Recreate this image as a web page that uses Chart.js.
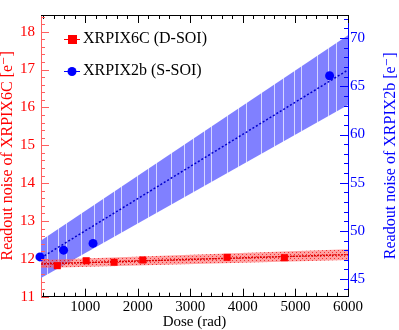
<!DOCTYPE html>
<html>
<head>
<meta charset="utf-8">
<script src="https://cdn.jsdelivr.net/npm/chart.js@4.4.1/dist/chart.umd.min.js"></script>
<style>
  html, body { margin: 0; padding: 0; background: #fff; }
  canvas { display: block; }
</style>
</head>
<body>
<canvas id="noiseChart" width="399" height="330" style="width:399px;height:330px"></canvas>
<script>
// ── Data ──
const redDose  = [470, 1020, 1550, 2095, 3700, 4790];
const redNoise = [11.82, 11.95, 11.91, 11.97, 12.04, 12.03];   // XRPIX6C, left axis
const blueDose  = [140, 590, 1150, 5650];
const blueNoise = [47.3, 48.0, 48.7, 66.1];                     // XRPIX2b, right axis

const fitDose   = [160, 6000];
const redFit    = [11.865, 12.11];
const redUpper  = [11.97, 12.25];
const redLower  = [11.76, 11.97];
const blueFit   = [47.2, 66.7];
const blueUpper = [49.0, 70.3];
const blueLower = [45.1, 63.05];

const xTicks  = [1000, 2000, 3000, 4000, 5000, 6000];
const yTicks  = [11, 12, 13, 14, 15, 16, 17, 18];
const y2Ticks = [45, 50, 55, 60, 65, 70];

const SERIF = '"Liberation Serif", "DejaVu Serif", serif';
const RED = '#ff0000';
const BLUE = '#0000ff';
const Y2_TITLE = 'Readout noise of XRPIX2b [e\u207B]';

const pts = (xs, ys) => xs.map((x, i) => ({ x: x, y: ys[i] }));

// ── Band fills ──
function redPattern() {
    const c = document.createElement('canvas');
    c.width = 4; c.height = 4;
    const g = c.getContext('2d');
    g.fillStyle = 'rgba(255,100,100,0.6)';
    g.fillRect(0, 0, 4, 4);
    g.fillStyle = 'rgba(235,0,0,0.7)';
    g.fillRect(0, 0, 1, 1);
    g.fillRect(2, 2, 1, 1);
    return g.createPattern(c, 'repeat');
}

// light fill with the faint vertical streaks seen in the original render
function bluePattern() {
    const c = document.createElement('canvas');
    c.width = 90; c.height = 4;
    const g = c.getContext('2d');
    g.fillStyle = '#8080ff';
    g.fillRect(0, 0, 90, 4);
    g.fillStyle = 'rgba(235,235,255,0.8)';
    [4, 13, 24, 31, 47, 58, 66, 81].forEach(sx => g.fillRect(sx, 0, 1, 4));
    return g.createPattern(c, 'repeat');
}

// ── Frame + inward ticks ──
const frameTicks = {
    id: 'frameTicks',
    afterDatasetsDraw(chart) {
        const { ctx, chartArea: a, scales } = chart;
        const { x, y, y2 } = scales;
        ctx.save();
        ctx.lineWidth = 1;

        // top frame line
        ctx.strokeStyle = '#000';
        ctx.beginPath();
        ctx.moveTo(a.left, a.top + 0.5);
        ctx.lineTo(a.right, a.top + 0.5);
        ctx.stroke();

        const minor = (scale, step) => {
            const out = [];
            for (let v = Math.ceil(scale.min / step) * step; v <= scale.max + 1e-9; v += step) out.push(v);
            return out;
        };

        // x ticks (bottom and top)
        ctx.strokeStyle = '#000';
        ctx.beginPath();
        minor(x, 200).forEach(v => {
            const px = Math.round(x.getPixelForValue(v)) + 0.5;
            const big = Math.abs(v / 1000 - Math.round(v / 1000)) < 1e-6;
            const len = big ? 8 : 4;
            ctx.moveTo(px, a.bottom); ctx.lineTo(px, a.bottom - len);
            ctx.moveTo(px, a.top);    ctx.lineTo(px, a.top + len);
        });
        ctx.stroke();

        // left ticks
        ctx.strokeStyle = '#ff6060';
        ctx.beginPath();
        minor(y, 0.2).forEach(v => {
            const py = Math.round(y.getPixelForValue(v)) + 0.5;
            const big = Math.abs(v - Math.round(v)) < 1e-6;
            ctx.moveTo(a.left, py); ctx.lineTo(a.left + (big ? 8 : 4), py);
        });
        ctx.stroke();

        // right ticks
        ctx.strokeStyle = BLUE;
        ctx.beginPath();
        minor(y2, 1).forEach(v => {
            const py = Math.round(y2.getPixelForValue(v)) + 0.5;
            const big = Math.abs(v / 5 - Math.round(v / 5)) < 1e-6;
            ctx.moveTo(a.right, py); ctx.lineTo(a.right - (big ? 8 : 4), py);
        });
        ctx.stroke();
        ctx.restore();
    }
};

// ── Legend inside the frame + right axis title (reads bottom to top) ──
const innerLegend = {
    id: 'innerLegend',
    afterDraw(chart) {
        const { ctx, chartArea: a } = chart;
        const rows = [
            { label: 'XRPIX6C (D-SOI)', color: RED,  shape: 'rect',   y: 39 },
            { label: 'XRPIX2b (S-SOI)', color: BLUE, shape: 'circle', y: 71 }
        ];
        ctx.save();
        rows.forEach(r => {
            ctx.strokeStyle = r.color;
            ctx.lineWidth = 1;
            ctx.beginPath();
            ctx.moveTo(64, r.y + 0.5); ctx.lineTo(80, r.y + 0.5);
            ctx.stroke();
            ctx.fillStyle = r.color;
            if (r.shape === 'rect') {
                ctx.fillRect(68, r.y - 4, 9, 9);
            } else {
                ctx.beginPath();
                ctx.arc(72, r.y + 0.5, 4.5, 0, Math.PI * 2);
                ctx.fill();
            }
            ctx.fillStyle = '#000';
            ctx.font = '16px ' + SERIF;
            ctx.textBaseline = 'middle';
            ctx.fillText(r.label, 83, r.y);
        });

        ctx.translate(391, (a.top + a.bottom) / 2);
        ctx.rotate(-Math.PI / 2);
        ctx.fillStyle = BLUE;
        ctx.font = '16px ' + SERIF;
        ctx.textAlign = 'center';
        ctx.textBaseline = 'middle';
        ctx.fillText(Y2_TITLE, 0, 0);
        ctx.restore();
    }
};

const ctx = document.getElementById('noiseChart').getContext('2d');
const redFill = redPattern();
const blueFill = bluePattern();

new Chart(ctx, {
    type: 'scatter',
    data: {
        datasets: [
            { label: 'XRPIX6C', data: pts(redDose, redNoise), yAxisID: 'y',
              pointStyle: 'rect', pointRadius: 5, backgroundColor: RED, borderColor: RED,
              borderWidth: 0, order: 1, clip: false },
            { label: 'XRPIX2b', data: pts(blueDose, blueNoise), yAxisID: 'y2',
              pointStyle: 'circle', pointRadius: 4.5, backgroundColor: BLUE, borderColor: BLUE,
              borderWidth: 0, order: 2, clip: false },
            { label: 'red fit', data: pts(fitDose, redFit), yAxisID: 'y', showLine: true,
              pointRadius: 0, borderColor: '#dd0000', borderWidth: 1.5, borderDash: [2, 1], order: 3 },
            { label: 'red upper', data: pts(fitDose, redUpper), yAxisID: 'y', showLine: true,
              pointRadius: 0, borderWidth: 0, borderColor: 'rgba(0,0,0,0)', backgroundColor: redFill,
              fill: '+1', order: 4 },
            { label: 'red lower', data: pts(fitDose, redLower), yAxisID: 'y', showLine: true,
              pointRadius: 0, borderWidth: 0, borderColor: 'rgba(0,0,0,0)', fill: false, order: 4 },
            { label: 'blue fit', data: pts(fitDose, blueFit), yAxisID: 'y2', showLine: true,
              pointRadius: 0, borderColor: '#0000cc', borderWidth: 1.5, borderDash: [2, 2], order: 5 },
            { label: 'blue upper', data: pts(fitDose, blueUpper), yAxisID: 'y2', showLine: true,
              pointRadius: 0, borderWidth: 0, borderColor: 'rgba(0,0,0,0)',
              backgroundColor: blueFill, fill: '+1', order: 6 },
            { label: 'blue lower', data: pts(fitDose, blueLower), yAxisID: 'y2', showLine: true,
              pointRadius: 0, borderWidth: 0, borderColor: 'rgba(0,0,0,0)', fill: false, order: 6 }
        ]
    },
    options: {
        responsive: false,
        animation: false,
        devicePixelRatio: 1,
        layout: { padding: { top: 2.5, left: 0, right: 0, bottom: 0 } },
        plugins: { legend: { display: false }, tooltip: { enabled: false } },
        scales: {
            x: {
                type: 'linear', min: 160, max: 6000,
                afterFit: s => { s.height = 33.3; },
                afterBuildTicks: s => { s.ticks = xTicks.map(v => ({ value: v })); },
                grid: { display: false, drawTicks: false, tickLength: 0 },
                border: { display: true, color: '#000', width: 1 },
                ticks: { color: '#000', padding: 1, font: { family: SERIF, size: 15 },
                         callback: v => String(v) },
                title: { display: true, text: 'Dose (rad)', color: '#000', padding: 0,
                         font: { family: SERIF, size: 15, lineHeight: 1 } }
            },
            y: {
                position: 'left', min: 11, max: 18.44,
                afterFit: s => { s.width = 41; },
                afterBuildTicks: s => { s.ticks = yTicks.map(v => ({ value: v })); },
                grid: { display: false, drawTicks: false, tickLength: 0 },
                border: { display: true, color: '#ff6060', width: 1 },
                ticks: { color: RED, padding: 6, font: { family: SERIF, size: 15 },
                         callback: v => String(v) },
                title: { display: true, text: 'Readout noise of XRPIX6C [e\u207B]', color: RED, padding: 0,
                         font: { family: SERIF, size: 16, lineHeight: 1 } }
            },
            y2: {
                position: 'right', min: 43.17, max: 72.4,
                afterFit: s => { s.width = 51; },
                afterBuildTicks: s => { s.ticks = y2Ticks.map(v => ({ value: v })); },
                grid: { display: false, drawTicks: false, tickLength: 0 },
                border: { display: true, color: BLUE, width: 1 },
                ticks: { color: BLUE, padding: 2, font: { family: SERIF, size: 15 },
                         callback: v => String(v) },
                title: { display: false }
            }
        }
    },
    plugins: [frameTicks, innerLegend]
});
</script>
</body>
</html>
